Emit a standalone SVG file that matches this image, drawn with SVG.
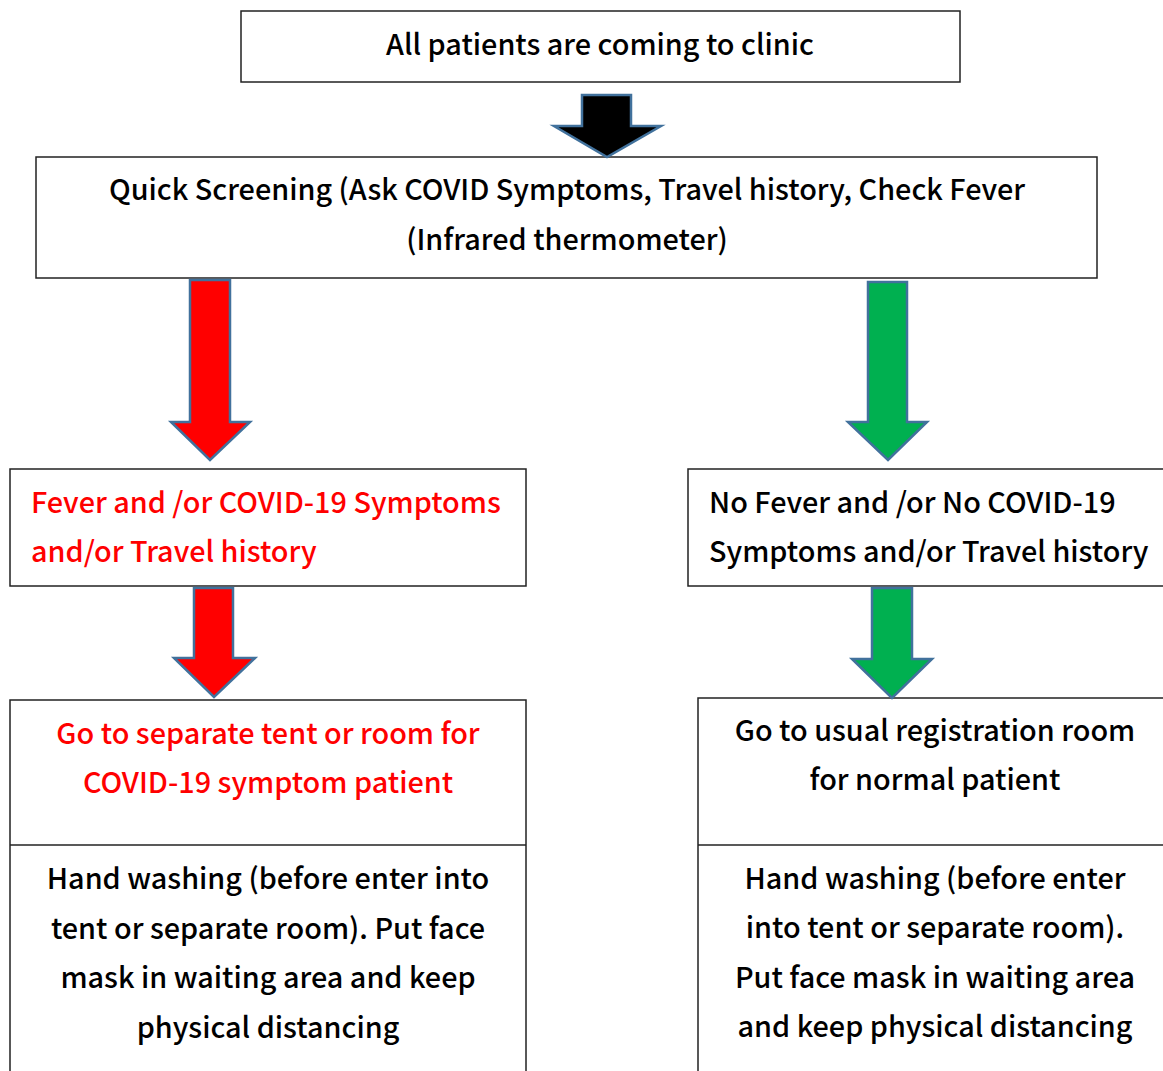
<svg xmlns="http://www.w3.org/2000/svg" width="1163" height="1071" viewBox="0 0 1163 1071">
<style>
.box{fill:#fff;stroke:#222;stroke-width:1.5}
.t{font-family:"Noto Sans CJK KR","Noto Sans",sans-serif;font-size:28.8px;font-weight:500;fill:#000}
.c{text-anchor:middle}
.red{fill:#ff0000}
.arr{stroke:#41719c;stroke-width:2.5;stroke-linejoin:miter}
</style>
<rect width="1163" height="1071" fill="#fff"/>
<g id="n1">
<rect class="box" x="241" y="11" width="719" height="71"/>
<text class="t c" x="600" y="55">All patients are coming to clinic</text>
</g>
<g id="n2">
<rect class="box" x="36" y="157" width="1061" height="121"/>
<text class="t c" x="567" y="200">Quick Screening (Ask COVID Symptoms, Travel history, Check Fever</text>
<text class="t c" x="567" y="250">(Infrared thermometer)</text>
</g>
<g id="n3">
<rect class="box" x="10" y="469" width="516" height="117"/>
<text class="t red" x="31" y="513">Fever and /or COVID-19 Symptoms</text>
<text class="t red" x="31" y="562">and/or Travel history</text>
</g>
<g id="n4">
<rect class="box" x="688" y="469" width="480" height="117"/>
<text class="t" x="709" y="513">No Fever and /or No COVID-19</text>
<text class="t" x="709" y="562">Symptoms and/or Travel history</text>
</g>
<g id="n5">
<rect class="box" x="10" y="700" width="516" height="380"/>
<line class="box" x1="10" y1="845" x2="526" y2="845"/>
<text class="t c red" x="268" y="744">Go to separate tent or room for</text>
<text class="t c red" x="268" y="793">COVID-19 symptom patient</text>
<text class="t c" x="268" y="889">Hand washing (before enter into</text>
<text class="t c" x="268" y="939">tent or separate room). Put face</text>
<text class="t c" x="268" y="988">mask in waiting area and keep</text>
<text class="t c" x="268" y="1038">physical distancing</text>
</g>
<g id="n6">
<rect class="box" x="698" y="698" width="470" height="382"/>
<line class="box" x1="698" y1="845" x2="1168" y2="845"/>
<text class="t c" x="935" y="741">Go to usual registration room</text>
<text class="t c" x="935" y="790">for normal patient</text>
<text class="t c" x="935" y="889">Hand washing (before enter</text>
<text class="t c" x="935" y="938">into tent or separate room).</text>
<text class="t c" x="935" y="988">Put face mask in waiting area</text>
<text class="t c" x="935" y="1037">and keep physical distancing</text>
</g>
<g id="connectors">
<polygon class="arr" fill="#000" points="582,95 631,95 631,126 661,126 607,157 554,126 582,126"/>
<polygon class="arr" fill="#ff0000" points="190,280 230,280 230,422 250,422 210,460 171,422 190,422"/>
<polygon class="arr" fill="#00b050" points="868,282 907,282 907,422 927,422 888,460 848,422 868,422"/>
<polygon class="arr" fill="#ff0000" points="194,588 233,588 233,658 255,658 214,697 174,658 194,658"/>
<polygon class="arr" fill="#00b050" points="872,588 912,588 912,659 932,659 892,698 852,659 872,659"/>
</g>
</svg>
